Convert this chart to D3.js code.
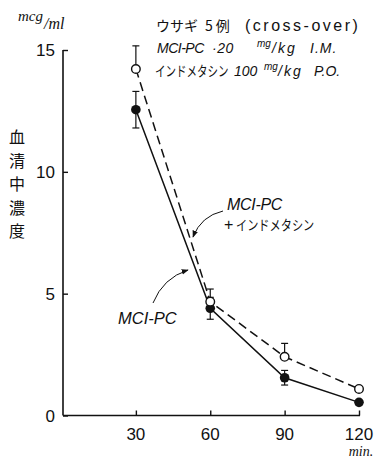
<!DOCTYPE html>
<html>
<head>
<meta charset="utf-8">
<script src="https://cdn.jsdelivr.net/npm/d3@7"></script>
<style>
  html, body { margin: 0; padding: 0; background: #fff; }
  svg { display: block; }
  .num { font-family: "Liberation Sans Narrow", "Liberation Sans", "DejaVu Sans", sans-serif; font-size: 17px; fill: #111; }
  .it { font-family: "Liberation Sans", "DejaVu Sans", sans-serif; font-style: italic; font-size: 14px; fill: #111; }
  .up { font-family: "Liberation Sans", "DejaVu Sans", sans-serif; font-size: 15px; fill: #111; }
  .ser { font-family: "Liberation Serif", serif; font-style: italic; fill: #111; }
  .jp { font-family: "Noto Sans CJK JP", sans-serif; font-size: 14px; fill: #111; }
</style>
</head>
<body>
<svg id="chart" width="379" height="458"></svg>
<script>
// Sampling times (min) and serum concentrations (mcg/ml)
const times = [30, 60, 90, 120];
const mciPc = [12.55, 4.40, 1.55, 0.54];          // MCI-PC alone (filled)
const mciPcSe = [0.75, 0.45, 0.30, 0];
const mciPcIndo = [14.22, 4.67, 2.41, 1.09];      // MCI-PC + indomethacin (open)
const mciPcIndoSe = [0.95, 0.52, 0.55, 0];
const yTicks = [0, 5, 10, 15];
const xTicks = [30, 60, 90, 120];

const svg = d3.select("#chart");
const x = d3.scaleLinear().domain([0, 120]).range([61.5, 359]);
const y = d3.scaleLinear().domain([0, 15]).range([415.5, 50]);

const ink = "#111";

// Axes
const yAxis = d3.axisRight(y).tickValues(yTicks).tickSize(5).tickFormat("");
const gy = svg.append("g").attr("transform", `translate(63,0)`).call(yAxis);
gy.select(".domain").remove();
gy.selectAll(".tick line").attr("stroke", ink).attr("stroke-width", 1.4);
svg.append("line").attr("x1", 63).attr("x2", 63).attr("y1", y(15)).attr("y2", y(0))
  .attr("stroke", ink).attr("stroke-width", 1.6);

const xAxis = d3.axisTop(x).tickValues(xTicks).tickSize(5).tickFormat("");
const gx = svg.append("g").attr("transform", `translate(0,${y(0)})`).call(xAxis);
gx.select(".domain").remove();
gx.selectAll(".tick line").attr("stroke", ink).attr("stroke-width", 1.4);
svg.append("line").attr("x1", 63).attr("x2", x(120) + 1).attr("y1", y(0)).attr("y2", y(0))
  .attr("stroke", ink).attr("stroke-width", 1.6);

// Tick labels
svg.selectAll(".ylab").data(yTicks).enter().append("text")
  .attr("class", "num").attr("x", 55).attr("y", d => y(d) + 6)
  .attr("text-anchor", "end").text(d => d);
svg.selectAll(".xlab").data(xTicks).enter().append("text")
  .attr("class", "num").attr("x", d => x(d)).attr("y", 440)
  .attr("text-anchor", "middle").text(d => d);
svg.append("text").attr("class", "ser").attr("x", 361).attr("y", 456)
  .attr("text-anchor", "middle").style("font-size", "14px").text("min.");

// Unit label
svg.append("text").attr("class", "ser").attr("x", 18).attr("y", 21)
  .style("font-size", "15px").text("mcg");
svg.append("text").attr("class", "ser").attr("x", 44).attr("y", 29)
  .style("font-size", "16px").text("/ml");

// Vertical title
const title = ["血", "清", "中", "濃", "度"];
svg.selectAll(".vt").data(title).enter().append("text")
  .attr("class", "jp").attr("x", 17).attr("y", (d, i) => 143 + i * 23.5)
  .attr("text-anchor", "middle").style("font-size", "16px").text(d => d);

// Text helper: class, position, string, size, letter spacing
function piece(cls, x0, y0, str, size, ls) {
  const t = svg.append("text").attr("class", cls).attr("x", x0).attr("y", y0).text(str);
  if (size) t.style("font-size", size + "px");
  if (ls) t.attr("letter-spacing", ls);
  return t;
}
// Horizontally condensed katakana run
function narrowJp(x0, y0, str, sx, size) {
  return svg.append("text").attr("class", "jp")
    .attr("transform", `translate(${x0},${y0}) scale(${sx},1)`)
    .style("font-size", size + "px").text(str);
}

// Conditions
piece("jp", 156, 31, "ウサギ", 14);
piece("jp", 205, 31, "5例", 14, 3);
piece("up", 245, 31, "(cross-over)", 16, 2.5);

piece("it", 157, 53, "MCI-PC", 14, -0.5);
piece("it", 212, 53, "·20", 14, 0.5);
piece("it", 257, 47, "mg", 10);
piece("it", 272, 53, "/kg", 14, 2);
piece("it", 310, 53, "I.M.", 14, 1);

narrowJp(155, 76, "インドメタシン", 0.75, 14);
piece("it", 234, 76, "100", 14);
piece("it", 264, 70, "mg", 10);
piece("it", 278, 76, "/kg", 14, 2);
piece("it", 314, 76, "P.O.", 14);

// Series lines
const line = d3.line().x(d => x(d[0])).y(d => y(d[1]));
svg.append("path").datum(times.map((t, i) => [t, mciPcIndo[i]]))
  .attr("d", line).attr("fill", "none").attr("stroke", ink)
  .attr("stroke-width", 1.5).attr("stroke-dasharray", "9,5");
svg.append("path").datum(times.map((t, i) => [t, mciPc[i]]))
  .attr("d", line).attr("fill", "none").attr("stroke", ink).attr("stroke-width", 1.5);

// Error bars: filled series both ways, open series upward
function capLine(t, v) {
  svg.append("line").attr("x1", x(t) - 3.5).attr("x2", x(t) + 3.5).attr("y1", y(v)).attr("y2", y(v))
    .attr("stroke", ink).attr("stroke-width", 1.2);
}
function stem(t, a, b) {
  svg.append("line").attr("x1", x(t)).attr("x2", x(t)).attr("y1", y(a)).attr("y2", y(b))
    .attr("stroke", ink).attr("stroke-width", 1.2);
}
times.forEach((t, i) => {
  if (mciPcSe[i] > 0) {
    stem(t, mciPc[i] - mciPcSe[i], mciPc[i] + mciPcSe[i]);
    capLine(t, mciPc[i] - mciPcSe[i]);
    capLine(t, mciPc[i] + mciPcSe[i]);
  }
  if (mciPcIndoSe[i] > 0) {
    stem(t, mciPcIndo[i], mciPcIndo[i] + mciPcIndoSe[i]);
    capLine(t, mciPcIndo[i] + mciPcIndoSe[i]);
  }
});

// Markers
svg.selectAll(".filled").data(times).enter().append("circle")
  .attr("cx", d => x(d)).attr("cy", (d, i) => y(mciPc[i])).attr("r", 4.8).attr("fill", ink);
svg.selectAll(".open").data(times).enter().append("circle")
  .attr("cx", d => x(d)).attr("cy", (d, i) => y(mciPcIndo[i])).attr("r", 4.3)
  .attr("fill", "#fff").attr("stroke", ink).attr("stroke-width", 1.4);

// Annotations with curved arrows
svg.append("defs").append("marker").attr("id", "ah").attr("viewBox", "0 0 10 10")
  .attr("refX", 9).attr("refY", 5).attr("markerWidth", 7).attr("markerHeight", 7)
  .attr("orient", "auto").append("path").attr("d", "M0,1 L10,5 L0,9 z").attr("fill", ink);

piece("it", 227, 210, "MCI-PC", 16, -0.3);
piece("up", 224, 230, "+", 16);
narrowJp(236, 230, "インドメタシン", 0.8, 14);
svg.append("path").attr("d", "M223,211 Q201,216 193,237")
  .attr("fill", "none").attr("stroke", ink).attr("stroke-width", 1).attr("marker-end", "url(#ah)");

piece("it", 118, 324, "MCI-PC", 16.5);
svg.append("path").attr("d", "M153,303 Q163,278 188,270")
  .attr("fill", "none").attr("stroke", ink).attr("stroke-width", 1).attr("marker-end", "url(#ah)");
</script>
</body>
</html>
